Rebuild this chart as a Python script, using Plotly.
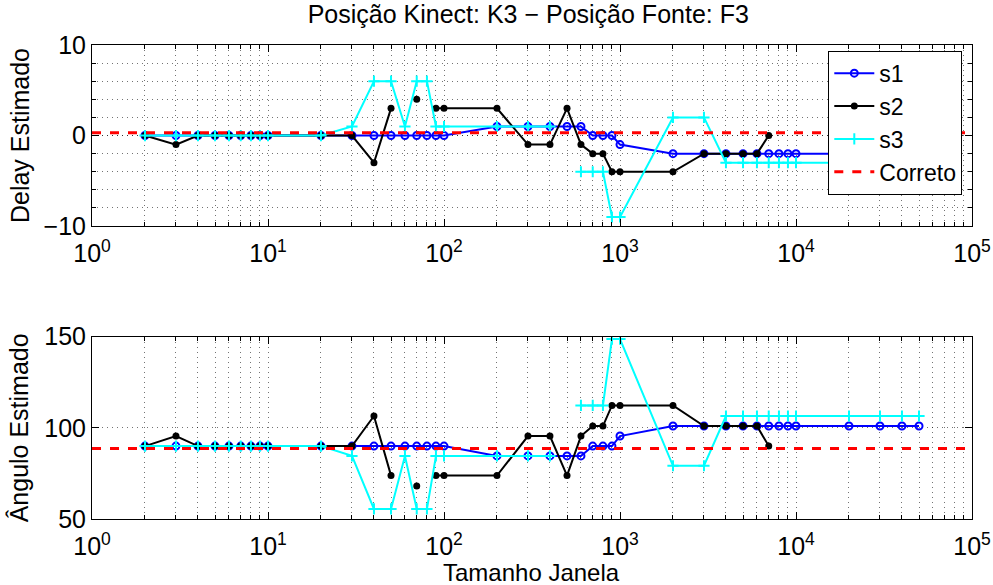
import plotly.graph_objects as go

nan = float("nan")

# Window sizes (x)
janela = [2, 3, 4, 5, 6, 7, 8, 9, 10,
          20, 30, 40, 50, 60, 70, 80, 90, 100,
          200, 300, 400, 500, 600, 700, 800, 900, 1000,
          2000, 3000, 4000, 5000, 6000, 7000, 8000, 9000, 10000,
          20000, 30000, 40000, 50000]

# Estimated delay
delay_s1 = [0, 0, 0, 0, 0, 0, 0, 0, 0,
            0, 0, 0, 0, 0, 0, 0, 0, 0,
            1, 1, 1, 1, 1, 0, 0, 0, -1,
            -2, -2, -2, -2, -2, -2, -2, -2, -2,
            -2, -2, -2, -2]
delay_s2 = [0, -1, 0, 0, 0, 0, 0, 0, 0,
            0, 0, -3, 3, nan, 4, nan, 3, 3,
            3, -1, -1, 3, -1, -2, -2, -4, -4,
            -4, -2, -2, -2, -2, 0, nan, nan, nan,
            nan, nan, nan, nan]
delay_s3 = [0, 0, 0, 0, 0, 0, 0, 0, 0,
            0, 1, 6, 6, 1, 6, 6, 1, 1,
            1, 1, 1, nan, -4, -4, -4, -9, -9,
            2, 2, -3, -3, -3, -3, -3, -3, -3,
            -3, -3, -3, -3]

# Estimated angle
ang_s1 = [90, 90, 90, 90, 90, 90, 90, 90, 90,
          90, 90, 90, 90, 90, 90, 90, 90, 90,
          84.6, 84.6, 84.6, 84.6, 84.6, 90, 90, 90, 95.5,
          101, 101, 101, 101, 101, 101, 101, 101, 101,
          101, 101, 101, 101]
ang_s2 = [90, 95.5, 90, 90, 90, 90, 90, 90, 90,
          90, 90, 106.5, 73.8, nan, 68.1, nan, 73.8, 73.8,
          73.8, 95.5, 95.5, 73.8, 95.5, 101, 101, 112.3, 112.3,
          112.3, 101, 101, 101, 101, 90, nan, nan, nan,
          nan, nan, nan, nan]
ang_s3 = [90, 90, 90, 90, 90, 90, 90, 90, 90,
          90, 84.6, 55.5, 55.5, 84.6, 55.5, 55.5, 84.6, 84.6,
          84.6, 84.6, 84.6, nan, 112.3, 112.3, 112.3, 148.7, 148.7,
          79.2, 79.2, 106.5, 106.5, 106.5, 106.5, 106.5, 106.5, 106.5,
          106.5, 106.5, 106.5, 106.5]

correto_x = [1, 100000]
correto_delay = [0.3, 0.3]
correto_ang = [88.7, 88.7]

xtick_vals = [1, 10, 100, 1000, 10000, 100000]
xtick_text = ["10<sup>%d</sup>" % i for i in range(6)]

FONT = "Liberation Sans, Arial, Helvetica, sans-serif"
BLUE = "rgb(0,0,255)"
BLACK = "rgb(0,0,0)"
CYAN = "rgb(0,255,255)"
RED = "rgb(255,0,0)"

fig = go.Figure()

def add_series(y_s1, y_s2, y_s3, y_c, xa, ya, show):
    fig.add_trace(go.Scatter(x=janela, y=y_s1, name="s1", mode="lines+markers",
                             line=dict(color=BLUE, width=2),
                             marker=dict(symbol="circle-open", size=7, color=BLUE,
                                         line=dict(width=2, color=BLUE)),
                             xaxis=xa, yaxis=ya, showlegend=show, connectgaps=False))
    fig.add_trace(go.Scatter(x=janela, y=y_s2, name="s2", mode="lines+markers",
                             line=dict(color=BLACK, width=2),
                             marker=dict(symbol="circle", size=7, color=BLACK),
                             xaxis=xa, yaxis=ya, showlegend=show, connectgaps=False))
    fig.add_trace(go.Scatter(x=janela, y=y_s3, name="s3", mode="lines+markers",
                             line=dict(color=CYAN, width=2),
                             marker=dict(symbol="cross-thin-open", size=8, color=CYAN,
                                         line=dict(width=2, color=CYAN)),
                             xaxis=xa, yaxis=ya, showlegend=show, connectgaps=False))
    fig.add_trace(go.Scatter(x=correto_x, y=y_c, name="Correto", mode="lines",
                             line=dict(color=RED, width=3, dash="dash"),
                             xaxis=xa, yaxis=ya, showlegend=show))

add_series(delay_s1, delay_s2, delay_s3, correto_delay, "x", "y", True)
add_series(ang_s1, ang_s2, ang_s3, correto_ang, "x2", "y2", False)

minor_vals = [m * 10 ** d for d in range(5) for m in range(2, 10)]
grid_col = "rgba(0,0,0,0.55)"
grid_dash = "1px,4px"

xaxis_common = dict(
    type="log", range=[0, 5], tickmode="array", tickvals=xtick_vals, ticktext=xtick_text,
    showline=True, linecolor="black", linewidth=1, mirror="allticks",
    ticks="inside", ticklen=7, tickcolor="black",
    showgrid=True, gridcolor=grid_col, griddash=grid_dash, gridwidth=1,
    minor=dict(tickmode="array", tickvals=minor_vals, ticks="inside", ticklen=4,
               tickcolor="black", showgrid=True, gridcolor=grid_col, griddash=grid_dash,
               gridwidth=1),
    zeroline=False, ticklabelstandoff=5, automargin=False,
    tickfont=dict(size=25, color="black", family=FONT),
)

fig.update_layout(
    width=993, height=585,
    margin=dict(l=92, r=21, t=45, b=66),
    paper_bgcolor="white", plot_bgcolor="white",
    font=dict(family=FONT, color="black", size=24),
    title=dict(text="Posição Kinect: K3 − Posição Fonte: F3", x=0.532, xanchor="center",
               y=1 - 14 / 585, yanchor="middle", yref="container",
               font=dict(size=25, family=FONT, color="black")),
    xaxis=dict(anchor="y", domain=[0, 1], **xaxis_common),
    xaxis2=dict(anchor="y2", domain=[0, 1], **xaxis_common),
    yaxis=dict(domain=[0.618, 1], anchor="x", range=[-10, 10], automargin=False,
               tickmode="array", tickvals=[-10, 0, 10], ticktext=["−10", "0", "10"],
               showline=True, linecolor="black", linewidth=1, mirror="allticks",
               ticks="inside", ticklen=7, tickcolor="black",
               showgrid=True, gridcolor=grid_col, griddash=grid_dash,
               minor=dict(dtick=2, ticks="inside", ticklen=4, tickcolor="black",
                          showgrid=True, gridcolor=grid_col, griddash=grid_dash),
               zeroline=False,
               title=dict(text="Delay Estimado", standoff=6,
                          font=dict(size=25, family=FONT, color="black")),
               tickfont=dict(size=25, color="black", family=FONT)),
    yaxis2=dict(domain=[0, 0.3846], anchor="x2", range=[50, 150], automargin=False,
                tickmode="array", tickvals=[50, 100, 150], ticktext=["50", "100", "150"],
                showline=True, linecolor="black", linewidth=1, mirror="allticks",
                ticks="inside", ticklen=7, tickcolor="black",
                showgrid=True, gridcolor=grid_col, griddash=grid_dash,
                zeroline=False,
                title=dict(text="Ângulo Estimado", standoff=8,
                           font=dict(size=25, family=FONT, color="black")),
                tickfont=dict(size=25, color="black", family=FONT)),
    legend=dict(x=0.8367, y=0.988, xanchor="left", yanchor="top",
                bgcolor="white", bordercolor="black", borderwidth=1,
                font=dict(size=23, family=FONT, color="black"),
                tracegroupgap=0, itemwidth=40),
    annotations=[dict(text="Tamanho Janela", xref="paper", yref="paper",
                      x=0.4997, y=-0.112, xanchor="center", yanchor="middle",
                      showarrow=False,
                      font=dict(size=24, family=FONT, color="black"))],
    showlegend=True,
)

fig.write_html("out.html")
